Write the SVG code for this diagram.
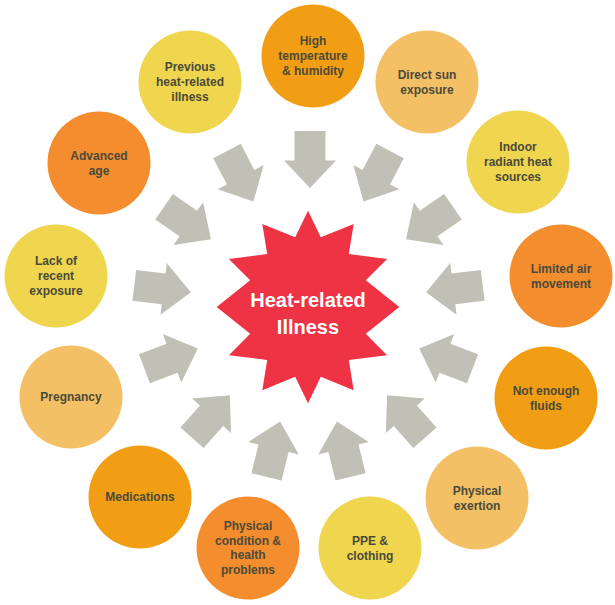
<svg xmlns="http://www.w3.org/2000/svg" width="615" height="605" viewBox="0 0 615 605">
<style>
.t{font-family:"Liberation Sans",Arial,sans-serif;font-weight:bold;font-size:12px;fill:#4B4A3A;text-anchor:middle}
.a{fill:#F29E14}.b{fill:#F3C065}.c{fill:#EFD64E}.d{fill:#F48D2E}
.arr{fill:#C0C0B7}
.ct{font-family:"Liberation Sans",Arial,sans-serif;font-weight:bold;font-size:20px;fill:#FFFFFF;text-anchor:middle}
</style>
<defs>
<path id="arrow" d="M-28.5,-15.5 L1,-15.5 L1,-26 L28.5,0 L1,26 L1,15.5 L-28.5,15.5 Z"/>
</defs>
<rect width="615" height="605" fill="#FFFFFF"/>
<g id="connectors" class="arr">
<use href="#arrow" transform="translate(310,159.5) rotate(90)"/>
<use href="#arrow" transform="translate(376.8,176.3) rotate(117.69)"/>
<use href="#arrow" transform="translate(429.5,223) rotate(145.385)"/>
<use href="#arrow" transform="translate(454.4,288.8) rotate(173.077)"/>
<use href="#arrow" transform="translate(445.9,358.6) rotate(200.769)"/>
<use href="#arrow" transform="translate(406,416.5) rotate(228.462)"/>
<use href="#arrow" transform="translate(343.7,449.2) rotate(256.154)"/>
<use href="#arrow" transform="translate(273.3,449.2) rotate(283.846)"/>
<use href="#arrow" transform="translate(210.9,416.5) rotate(311.538)"/>
<use href="#arrow" transform="translate(171.1,358.6) rotate(339.231)"/>
<use href="#arrow" transform="translate(162.6,288.8) rotate(6.923)"/>
<use href="#arrow" transform="translate(187.5,223) rotate(34.615)"/>
<use href="#arrow" transform="translate(240.2,176.3) rotate(62.308)"/>
</g>
<g id="center">
<polygon fill="#EE3344" points="308,210.7 320.8,237.3 353.7,223.9 348.8,254.1 387.1,258.9 365.8,280.3 399.3,307 365.8,333.7 387.1,355.2 348.8,359.9 353.7,390.2 320.8,376.7 308,403.3 295.2,376.7 262.3,390.2 267.2,359.9 228.9,355.2 250.2,333.7 216.7,307 250.2,280.3 228.9,258.9 267.2,254.1 262.3,223.9 295.2,237.3"/>
<text class="ct" x="308" y="307">Heat-related</text>
<text class="ct" x="308" y="333.5">Illness</text>
</g>
<g id="n1"><circle class="a" cx="313" cy="56" r="51.5"/><text class="t" x="313" y="45">High</text><text class="t" x="313" y="60">temperature</text><text class="t" x="313" y="75">&amp; humidity</text></g>
<g id="n2"><circle class="b" cx="427" cy="82" r="51.5"/><text class="t" x="427" y="78.5">Direct sun</text><text class="t" x="427" y="93.5">exposure</text></g>
<g id="n3"><circle class="c" cx="518" cy="162" r="51.5"/><text class="t" x="518" y="151">Indoor</text><text class="t" x="518" y="166">radiant heat</text><text class="t" x="518" y="181">sources</text></g>
<g id="n4"><circle class="d" cx="561" cy="276" r="51.5"/><text class="t" x="561" y="272.5">Limited air</text><text class="t" x="561" y="287.5">movement</text></g>
<g id="n5"><circle class="a" cx="546" cy="398" r="51.5"/><text class="t" x="546" y="394.5">Not enough</text><text class="t" x="546" y="409.5">fluids</text></g>
<g id="n6"><circle class="b" cx="477" cy="498" r="51.5"/><text class="t" x="477" y="494.5">Physical</text><text class="t" x="477" y="509.5">exertion</text></g>
<g id="n7"><circle class="c" cx="370" cy="548" r="51.5"/><text class="t" x="370" y="544.5">PPE &amp;</text><text class="t" x="370" y="559.5">clothing</text></g>
<g id="n8"><circle class="d" cx="248" cy="548" r="51.5"/><text class="t" x="248" y="530">Physical</text><text class="t" x="248" y="544.7">condition &amp;</text><text class="t" x="248" y="559.4">health</text><text class="t" x="248" y="574.1">problems</text></g>
<g id="n9"><circle class="a" cx="140" cy="497" r="51.5"/><text class="t" x="140" y="501">Medications</text></g>
<g id="n10"><circle class="b" cx="71" cy="397" r="51.5"/><text class="t" x="71" y="401">Pregnancy</text></g>
<g id="n11"><circle class="c" cx="56" cy="276" r="51.5"/><text class="t" x="56" y="265">Lack of</text><text class="t" x="56" y="280">recent</text><text class="t" x="56" y="295">exposure</text></g>
<g id="n12"><circle class="d" cx="99" cy="163" r="51.5"/><text class="t" x="99" y="159.5">Advanced</text><text class="t" x="99" y="174.5">age</text></g>
<g id="n13"><circle class="c" cx="190" cy="82" r="51.5"/><text class="t" x="190" y="71">Previous</text><text class="t" x="190" y="86">heat-related</text><text class="t" x="190" y="101">illness</text></g>
</svg>
